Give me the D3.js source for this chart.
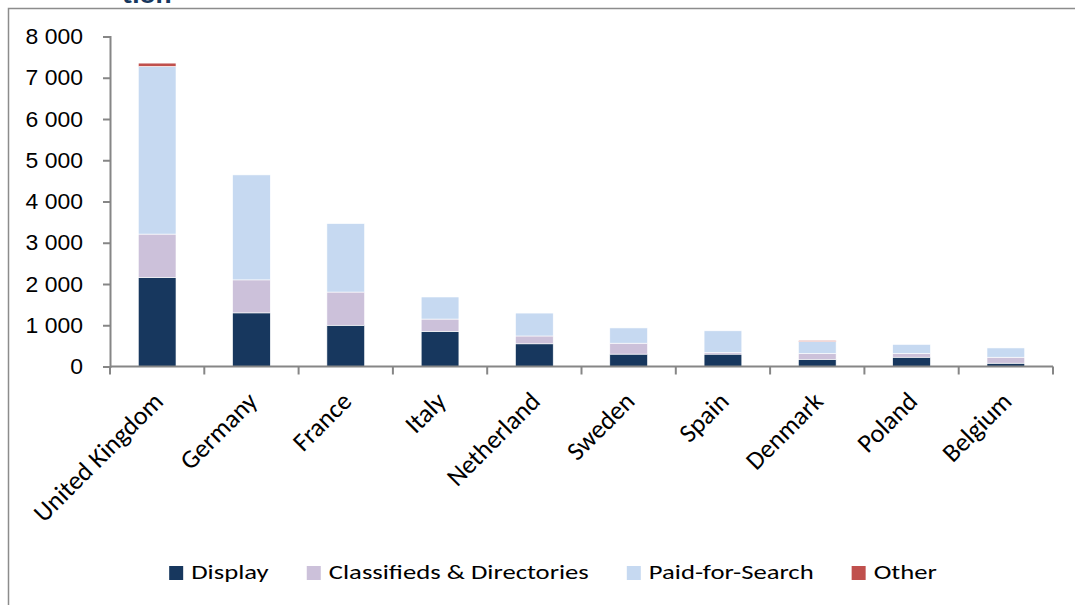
<!DOCTYPE html>
<html>
<head>
<meta charset="utf-8">
<script src="https://cdn.jsdelivr.net/npm/d3@7"></script>
<style>
  html, body { margin: 0; padding: 0; background: #fff; }
  svg { display: block; font-family: Carlito, Lato, "Liberation Sans", sans-serif; }
</style>
</head>
<body>
<svg id="chart" width="1075" height="605"></svg>
<script>
// Online advertising spend by format, top ten markets
const countries = ["United Kingdom", "Germany", "France", "Italy", "Netherland",
                   "Sweden", "Spain", "Denmark", "Poland", "Belgium"];
const display     = [2160, 1300, 1000, 850, 550, 300, 300, 175, 225, 80];
const classifieds = [1050,  800,  805, 300, 190, 265,  40, 140,  90, 145];
const paidSearch  = [4065, 2545, 1660, 535, 555, 370, 525, 290, 220, 225];
const other       = [  80,    0,    0,   0,   0,   0,   0,  25,   0,   0];
const seriesNames = ["Display", "Classifieds & Directories", "Paid-for-Search", "Other"];
const seriesColors = ["#17375E", "#CCC1DA", "#C6D9F1", "#C0504D"];
const yTicks = [0, 1000, 2000, 3000, 4000, 5000, 6000, 7000, 8000];

const svg = d3.select("#chart");
const axisColor = "#868686";

// outer frame (top and left edges)
svg.append("path")
  .attr("d", "M8.5,605 V8.5 H1075")
  .attr("fill", "none").attr("stroke", "#8c8c8c").attr("stroke-width", 1.5);

// title line running off the top edge
svg.append("text")
  .attr("transform", "translate(122,3) scale(1.15,1)")
  .attr("font-size", 26).attr("font-weight", "bold").attr("fill", "#17375E")
  .text("tion");

const x = d3.scaleBand().domain(countries).range([110, 1053]).paddingInner(0.6).paddingOuter(0.3);
const y = d3.scaleLinear().domain([0, 8000]).range([366.5, 36.5]);

const rows = countries.map((c, i) => ({
  country: c,
  "Display": display[i],
  "Classifieds & Directories": classifieds[i],
  "Paid-for-Search": paidSearch[i],
  "Other": other[i]
}));
const stacked = d3.stack().keys(seriesNames)(rows);

svg.append("g").selectAll("g")
  .data(stacked)
  .join("g")
    .attr("fill", (d, i) => seriesColors[i])
  .selectAll("rect")
  .data(d => d.filter(s => s[1] - s[0] > 0))
  .join("rect")
    .attr("x", d => x(d.data.country))
    .attr("width", x.bandwidth())
    .attr("y", d => y(d[1]))
    .attr("height", d => y(d[0]) - y(d[1]))
    .attr("stroke", "#ffffff").attr("stroke-width", 0.6);

// y axis
const yAxis = svg.append("g")
  .attr("transform", "translate(110,0)")
  .call(d3.axisLeft(y).tickValues(yTicks).tickSize(7)
        .tickFormat(d => d3.format(",")(d).replace(/,/g, " ")));
yAxis.select(".domain").attr("stroke", axisColor).attr("stroke-width", 2);
yAxis.selectAll(".tick line").attr("stroke", axisColor).attr("stroke-width", 2);
yAxis.selectAll(".tick text")
  .attr("x", 0)
  .attr("transform", "translate(-27,0) scale(1.02,1)")
  .attr("font-size", 22.5).attr("fill", "#000");

// x axis with ticks on category boundaries
const xAxisG = svg.append("g").attr("transform", "translate(0,366.5)");
xAxisG.append("line")
  .attr("x1", 110).attr("x2", 1053)
  .attr("stroke", axisColor).attr("stroke-width", 2);
const bounds = d3.range(countries.length + 1).map(i => 110 + i * (1053 - 110) / countries.length);
xAxisG.selectAll("line.tk").data(bounds).join("line")
  .attr("class", "tk")
  .attr("x1", d => d).attr("x2", d => d)
  .attr("y1", 0).attr("y2", 8)
  .attr("stroke", axisColor).attr("stroke-width", 2);
xAxisG.selectAll("text").data(countries).join("text")
  .attr("transform", d => `translate(${x(d) + x.bandwidth() / 2 + 1},${30}) rotate(-45)`)
  .attr("text-anchor", "end")
  .attr("dy", "0.35em")
  .attr("font-size", 26).attr("fill", "#000")
  .text(d => d);

// legend
const legend = svg.append("g").attr("transform", "translate(0,579)");
const items = legend.selectAll("g").data(seriesNames).join("g");
items.append("rect").attr("x", 0).attr("y", -13).attr("width", 14).attr("height", 14)
  .attr("fill", (d, i) => seriesColors[i]);
items.append("text")
  .attr("transform", "translate(22,0) scale(1.27,1)")
  .attr("font-size", 21).attr("fill", "#000")
  .text(d => d);
let cursor = 0;
const offsets = [];
items.each(function () {
  offsets.push(cursor);
  cursor += this.getBoundingClientRect().width + 38;
});
const total = cursor - 38;
const start = 553 - total / 2;
items.attr("transform", (d, i) => `translate(${start + offsets[i]},0)`);
</script>
</body>
</html>
